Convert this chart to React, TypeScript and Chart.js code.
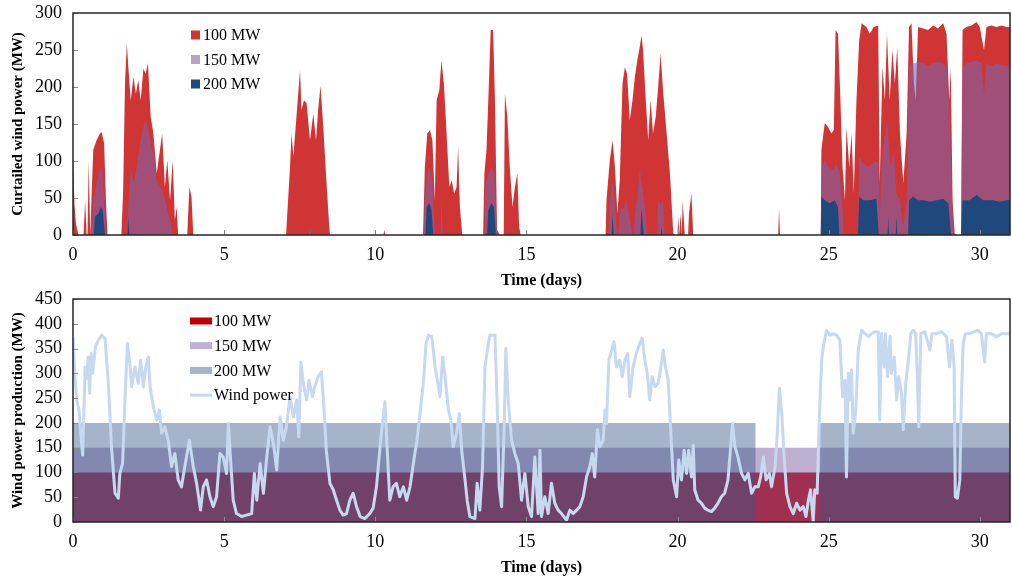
import React, { useEffect, useRef } from 'react';
import { Chart, registerables } from 'chart.js';

Chart.register(...registerables);

const FONT = "'Liberation Serif', 'Times New Roman', serif";

// ---------- Top panel: curtailed wind power (MW) ----------
const curt100Days = [0, 0.05, 0.1, 0.18, 0.35, 0.4, 0.45, 0.48, 0.52, 0.57, 0.62, 0.67, 0.78, 0.89, 0.95, 1.03, 1.09, 1.14, 1.6, 1.66, 1.72, 1.78, 1.83, 1.91, 2.0, 2.08, 2.16, 2.24, 2.33, 2.4, 2.48, 2.57, 2.66, 2.77, 2.86, 2.95, 3.04, 3.12, 3.21, 3.3, 3.37, 3.43, 3.48, 3.78, 3.85, 3.92, 3.98, 7.05, 7.09, 7.18, 7.23, 7.29, 7.4, 7.51, 7.56, 7.64, 7.73, 7.84, 7.95, 8.04, 8.11, 8.19, 8.28, 8.37, 8.45, 8.5, 10.27, 10.3, 10.33, 11.58, 11.64, 11.72, 11.81, 11.89, 11.97, 12.03, 12.12, 12.19, 12.27, 12.36, 12.45, 12.53, 12.61, 12.69, 12.74, 12.8, 12.88, 13.57, 13.61, 13.68, 13.76, 13.82, 13.9, 13.96, 14.03, 14.12, 14.25, 14.29, 14.37, 14.45, 14.54, 14.62, 14.7, 14.76, 14.81, 17.62, 17.65, 17.76, 17.85, 17.93, 18.01, 18.09, 18.18, 18.26, 18.33, 18.42, 18.51, 18.59, 18.67, 18.75, 18.81, 18.86, 18.95, 19.03, 19.11, 19.19, 19.28, 19.36, 19.44, 19.53, 19.64, 19.75, 19.86, 19.95, 20.0, 20.02, 20.06, 20.1, 20.14, 20.17, 20.24, 20.35, 20.38, 20.46, 20.52, 23.33, 23.36, 23.39, 24.74, 24.76, 24.87, 24.98, 25.09, 25.17, 25.23, 25.31, 25.39, 25.46, 25.54, 25.59, 25.68, 25.76, 25.83, 25.92, 26.01, 26.09, 26.25, 26.36, 26.49, 26.64, 26.69, 26.78, 26.86, 26.93, 27.02, 27.11, 27.19, 27.27, 27.36, 27.47, 27.58, 27.66, 27.74, 27.82, 27.88, 27.96, 28.13, 28.29, 28.46, 28.62, 28.79, 28.9, 28.99, 29.04, 29.1, 29.17, 29.25, 29.38, 29.43, 29.56, 29.73, 29.89, 30.0, 30.14, 30.22, 30.39, 30.55, 30.72, 30.88, 31.0];
const curt100MW = [105, 40, 15, 0, 0, 47, 0, 0, 101, 0, 60, 115, 128, 137, 139, 124, 47, 0, 0, 60, 205, 259, 227, 182, 214, 191, 209, 182, 225, 218, 232, 160, 137, 83, 110, 137, 65, 101, 47, 101, 20, 38, 0, 0, 65, 52, 0, 0, 29, 92, 137, 106, 164, 223, 169, 182, 178, 128, 164, 128, 169, 202, 146, 83, 29, 0, 0, 7, 0, 0, 92, 137, 142, 128, 47, 182, 196, 236, 205, 137, 65, 74, 56, 65, 119, 38, 0, 0, 83, 115, 205, 277, 277, 182, 7, 0, 0, 191, 160, 92, 38, 65, 83, 11, 0, 0, 47, 101, 128, 92, 29, 74, 205, 227, 218, 155, 182, 214, 236, 254, 270, 250, 182, 128, 182, 137, 160, 200, 245, 191, 137, 83, 2, 0, 0, 25, 0, 29, 0, 47, 0, 0, 29, 56, 0, 0, 36, 0, 0, 115, 151, 146, 137, 142, 277, 272, 182, 92, 47, 146, 92, 137, 56, 182, 263, 286, 281, 272, 281, 283, 70, 227, 182, 272, 182, 250, 205, 254, 137, 70, 137, 281, 286, 205, 182, 281, 279, 277, 283, 279, 286, 272, 182, 227, 47, 2, 0, 0, 277, 281, 283, 288, 281, 250, 281, 283, 281, 283, 281, 281];

const curt150Days = [0.6, 0.67, 0.78, 0.89, 0.95, 1.03, 1.09, 1.78, 1.83, 1.91, 2.0, 2.11, 2.22, 2.33, 2.41, 2.49, 2.57, 2.66, 2.77, 2.88, 2.99, 3.1, 3.21, 3.3, 7.8, 7.84, 7.88, 11.6, 11.64, 11.72, 11.81, 11.89, 11.97, 12.16, 12.19, 12.23, 13.6, 13.63, 13.74, 13.85, 13.93, 14.0, 14.04, 17.72, 17.76, 17.85, 17.93, 18.0, 18.05, 18.09, 18.2, 18.31, 18.42, 18.5, 18.55, 18.59, 18.67, 18.75, 18.84, 18.95, 19.0, 19.32, 19.36, 19.45, 19.53, 19.57, 24.74, 24.76, 24.87, 24.98, 25.15, 25.26, 25.37, 25.46, 25.5, 25.97, 26.01, 26.14, 26.31, 26.47, 26.64, 26.69, 26.8, 26.93, 27.04, 27.15, 27.24, 27.36, 27.47, 27.58, 27.66, 27.74, 27.85, 27.96, 28.13, 28.29, 28.46, 28.62, 28.79, 28.9, 28.99, 29.07, 29.12, 29.38, 29.43, 29.56, 29.73, 29.89, 30.05, 30.14, 30.22, 30.39, 30.55, 30.77, 31.0];
const curt150MW = [0, 47, 70, 88, 92, 56, 0, 0, 40, 92, 70, 92, 124, 146, 155, 142, 124, 110, 74, 65, 56, 38, 20, 0, 0, 10, 0, 0, 47, 83, 92, 74, 0, 0, 52, 0, 0, 65, 83, 92, 83, 25, 0, 0, 47, 74, 38, 0, 0, 38, 34, 47, 20, 0, 0, 29, 50, 88, 65, 25, 0, 0, 47, 40, 47, 0, 0, 92, 101, 92, 88, 97, 83, 38, 0, 0, 106, 97, 92, 97, 101, 29, 115, 155, 92, 115, 56, 47, 11, 47, 227, 232, 232, 234, 232, 229, 232, 234, 232, 227, 182, 70, 0, 0, 227, 232, 234, 236, 232, 191, 232, 229, 232, 229, 229];

const curt200Days = [0, 0.04, 0.68, 0.73, 0.84, 0.92, 0.98, 1.06, 1.8, 1.83, 1.86, 11.66, 11.7, 11.79, 11.86, 11.92, 13.7, 13.74, 13.85, 13.93, 13.99, 17.82, 17.85, 17.89, 18.77, 18.81, 18.86, 18.89, 19.45, 19.47, 19.5, 24.74, 24.76, 24.87, 25.04, 25.2, 25.31, 25.35, 25.97, 26.01, 26.14, 26.36, 26.58, 26.66, 26.95, 26.97, 27.0, 27.22, 27.24, 27.27, 27.63, 27.66, 27.79, 27.96, 28.13, 28.35, 28.57, 28.79, 28.96, 29.05, 29.38, 29.43, 29.67, 29.89, 30.11, 30.22, 30.44, 30.66, 30.88, 31.0];
const curt200MW = [25, 0, 0, 25, 29, 38, 34, 0, 0, 25, 0, 0, 38, 43, 34, 0, 0, 34, 43, 38, 0, 0, 29, 0, 0, 36, 10, 0, 0, 11, 0, 0, 52, 47, 43, 47, 38, 0, 0, 52, 47, 47, 49, 0, 0, 25, 0, 0, 25, 0, 0, 47, 52, 47, 47, 45, 47, 49, 43, 0, 0, 47, 47, 54, 47, 47, 47, 45, 47, 47];

// ---------- Bottom panel: wind power production (MW) ----------
const windDays = [0, 0.06, 0.12, 0.2, 0.28, 0.32, 0.36, 0.4, 0.45, 0.5, 0.55, 0.6, 0.65, 0.7, 0.75, 0.85, 0.95, 1.06, 1.17, 1.28, 1.39, 1.5, 1.55, 1.64, 1.72, 1.8, 1.88, 1.94, 2.05, 2.16, 2.24, 2.33, 2.41, 2.49, 2.55, 2.66, 2.77, 2.86, 2.93, 3.04, 3.15, 3.26, 3.37, 3.48, 3.59, 3.7, 3.85, 3.98, 4.09, 4.22, 4.31, 4.42, 4.53, 4.64, 4.75, 4.86, 4.97, 5.08, 5.14, 5.22, 5.3, 5.41, 5.58, 5.74, 5.91, 6.0, 6.08, 6.19, 6.3, 6.41, 6.52, 6.63, 6.74, 6.85, 6.96, 7.06, 7.18, 7.29, 7.4, 7.47, 7.54, 7.62, 7.73, 7.81, 7.92, 8.0, 8.11, 8.22, 8.3, 8.38, 8.5, 8.61, 8.72, 8.83, 8.94, 9.05, 9.16, 9.27, 9.38, 9.5, 9.66, 9.82, 9.93, 10.04, 10.12, 10.2, 10.32, 10.38, 10.48, 10.59, 10.7, 10.81, 10.93, 11.04, 11.15, 11.26, 11.38, 11.48, 11.59, 11.68, 11.76, 11.87, 11.98, 12.09, 12.14, 12.23, 12.31, 12.42, 12.5, 12.58, 12.69, 12.78, 12.86, 12.97, 13.04, 13.13, 13.3, 13.37, 13.46, 13.55, 13.63, 13.71, 13.79, 13.96, 14.03, 14.1, 14.18, 14.26, 14.32, 14.4, 14.51, 14.62, 14.73, 14.84, 14.95, 15.06, 15.17, 15.28, 15.39, 15.45, 15.5, 15.61, 15.72, 15.83, 15.94, 16.05, 16.16, 16.33, 16.44, 16.55, 16.66, 16.77, 16.88, 16.99, 17.1, 17.18, 17.26, 17.35, 17.43, 17.54, 17.6, 17.65, 17.73, 17.82, 17.9, 17.98, 18.09, 18.17, 18.26, 18.35, 18.42, 18.53, 18.64, 18.75, 18.83, 18.92, 19.0, 19.08, 19.16, 19.25, 19.36, 19.45, 19.53, 19.6, 19.69, 19.78, 19.86, 19.97, 20.04, 20.13, 20.22, 20.3, 20.37, 20.46, 20.52, 20.57, 20.68, 20.79, 20.9, 21.0, 21.12, 21.23, 21.34, 21.45, 21.56, 21.67, 21.75, 21.82, 21.9, 22.0, 22.12, 22.23, 22.34, 22.45, 22.56, 22.67, 22.75, 22.84, 22.93, 23.04, 23.11, 23.23, 23.3, 23.37, 23.45, 23.52, 23.61, 23.72, 23.83, 23.94, 24.05, 24.16, 24.25, 24.33, 24.4, 24.49, 24.54, 24.62, 24.69, 24.77, 24.84, 24.93, 25.04, 25.15, 25.26, 25.37, 25.46, 25.54, 25.59, 25.65, 25.7, 25.76, 25.81, 25.89, 25.98, 26.09, 26.2, 26.31, 26.42, 26.53, 26.64, 26.69, 26.75, 26.84, 26.88, 26.95, 27.03, 27.08, 27.17, 27.25, 27.32, 27.41, 27.47, 27.55, 27.64, 27.72, 27.8, 27.88, 27.94, 27.98, 28.05, 28.18, 28.35, 28.42, 28.57, 28.73, 28.9, 29.0, 29.08, 29.15, 29.19, 29.26, 29.34, 29.39, 29.45, 29.52, 29.67, 29.83, 29.94, 30.05, 30.16, 30.22, 30.38, 30.55, 30.72, 30.88, 31.0];
const windMW = [374, 300, 246, 225, 160, 135, 220, 313, 290, 333, 260, 340, 300, 330, 355, 368, 377, 370, 280, 145, 58, 48, 98, 118, 246, 360, 320, 273, 313, 280, 327, 273, 313, 333, 273, 232, 206, 226, 179, 192, 165, 112, 138, 85, 71, 112, 165, 112, 78, 24, 71, 85, 51, 31, 51, 138, 131, 98, 199, 120, 44, 17, 11, 14, 17, 98, 44, 118, 58, 131, 192, 159, 105, 212, 165, 192, 253, 212, 246, 172, 323, 280, 246, 286, 253, 273, 293, 303, 233, 145, 78, 65, 44, 24, 14, 17, 44, 58, 31, 11, 7, 17, 28, 71, 125, 179, 243, 165, 44, 71, 78, 51, 71, 44, 71, 118, 165, 219, 280, 360, 377, 374, 313, 273, 253, 333, 293, 226, 206, 152, 179, 219, 145, 85, 44, 11, 7, 78, 24, 112, 313, 347, 377, 377, 246, 71, 31, 179, 350, 246, 165, 138, 118, 44, 98, 31, 11, 131, 17, 145, 11, 51, 17, 78, 38, 24, 17, 4, 24, 17, 24, 31, 51, 91, 112, 138, 91, 186, 152, 165, 226, 199, 327, 347, 364, 313, 327, 293, 327, 340, 253, 313, 340, 360, 371, 327, 300, 246, 293, 273, 280, 313, 347, 313, 286, 179, 85, 51, 125, 85, 145, 98, 145, 91, 155, 65, 44, 38, 28, 24, 21, 28, 38, 51, 58, 85, 145, 199, 152, 131, 98, 85, 98, 58, 71, 71, 91, 131, 85, 98, 71, 112, 179, 270, 219, 138, 58, 31, 17, 38, 24, 31, 11, 44, 65, 0, 65, 58, 212, 327, 360, 387, 377, 380, 377, 367, 253, 286, 91, 300, 246, 307, 179, 219, 347, 387, 380, 374, 380, 384, 384, 206, 380, 313, 380, 293, 374, 300, 333, 246, 293, 259, 186, 280, 327, 380, 387, 380, 286, 192, 380, 384, 347, 380, 380, 384, 374, 313, 367, 313, 51, 48, 85, 246, 360, 380, 380, 384, 387, 380, 323, 380, 380, 374, 380, 380, 380];

// capacity bands (MW)
const band100Days = [0, 31];
const band100MW = [100, 100];
const band150Days = [0, 31];
const band150MW = [150, 150];
const band200Days = [0, 22.58, 22.58, 24.72, 24.72, 31];
const band200MW = [200, 200, 0, 0, 200, 200];

const xTickStep = 5;
const topYMax = 300;
const bottomYMax = 450;

const pts = (xs: number[], ys: number[]) => xs.map((x, i) => ({ x, y: ys[i] }));

const framePlugin = {
  id: 'frame',
  afterDatasetsDraw(chart: any) {
    const { ctx, chartArea: a, scales } = chart;
    ctx.save();
    ctx.strokeStyle = '#8a8a8a';
    ctx.lineWidth = 1;
    scales.x.ticks.forEach((t: any) => {
      const px = Math.round(scales.x.getPixelForValue(t.value)) + 0.5;
      ctx.beginPath();
      ctx.moveTo(px, a.bottom);
      ctx.lineTo(px, a.bottom - 5);
      ctx.stroke();
    });
    scales.y.ticks.forEach((t: any) => {
      const py = Math.round(scales.y.getPixelForValue(t.value)) + 0.5;
      ctx.beginPath();
      ctx.moveTo(a.left, py);
      ctx.lineTo(a.left + 5, py);
      ctx.stroke();
    });
    ctx.strokeStyle = '#262626';
    ctx.lineWidth = 1.5;
    ctx.strokeRect(a.left, a.top, a.right - a.left, a.bottom - a.top);
    ctx.restore();
  },
};

const legendPlugin = {
  id: 'boxLegend',
  afterDraw(chart: any, _args: any, opts: any) {
    if (!opts || !opts.items) return;
    const { ctx, chartArea: a } = chart;
    ctx.save();
    ctx.font = `16px ${FONT}`;
    ctx.textBaseline = 'middle';
    ctx.textAlign = 'left';
    opts.items.forEach((it: any, i: number) => {
      const cy = a.top + opts.y0 + i * opts.dy;
      const sx = a.left + opts.x0;
      if (it.line) {
        ctx.strokeStyle = it.color;
        ctx.lineWidth = 3;
        ctx.beginPath();
        ctx.moveTo(sx, cy);
        ctx.lineTo(sx + opts.sw, cy);
        ctx.stroke();
      } else {
        ctx.fillStyle = it.color;
        ctx.fillRect(sx, cy - opts.sh / 2, opts.sw, opts.sh);
      }
      ctx.fillStyle = '#000';
      ctx.fillText(it.label, a.left + opts.tx, cy + 1);
    });
    ctx.restore();
  },
};

function makeScales(yMax: number, yTitle: string, xAxisH: number, xTitlePadBottom: number) {
  return {
    x: {
      type: 'linear',
      min: 0,
      max: 31,
      afterFit: (s: any) => { s.height = xAxisH; s.paddingLeft = 0; s.paddingRight = 0; },
      border: { display: false },
      grid: { display: false, drawTicks: false },
      ticks: {
        stepSize: xTickStep,
        includeBounds: false,
        autoSkip: false,
        maxRotation: 0,
        padding: 9,
        color: '#000',
        font: { family: FONT, size: 18 },
      },
      title: {
        display: true,
        text: 'Time (days)',
        color: '#000',
        font: { family: FONT, size: 16, weight: 'bold' },
        padding: { top: 0, bottom: xTitlePadBottom },
      },
    },
    y: {
      min: 0,
      max: yMax,
      afterFit: (s: any) => { s.width = 73; s.paddingTop = 0; s.paddingBottom = 0; },
      border: { display: false },
      grid: { display: false, drawTicks: false },
      ticks: {
        stepSize: 50,
        autoSkip: false,
        padding: 11,
        color: '#000',
        font: { family: FONT, size: 18 },
      },
      title: {
        display: true,
        text: yTitle,
        color: '#000',
        font: { family: FONT, size: 15, weight: 'bold' },
        padding: { top: 9, bottom: 0 },
      },
    },
  };
}

function TopChart() {
  const ref = useRef<HTMLCanvasElement>(null);
  useEffect(() => {
    const ch = new Chart(ref.current as HTMLCanvasElement, {
      type: 'line',
      data: {
        datasets: [
          { label: '200 MW', data: pts(curt200Days, curt200MW), fill: 'origin', backgroundColor: '#1f497d', borderColor: 'rgba(0,0,0,0)', borderWidth: 0, pointRadius: 0, tension: 0 },
          { label: '150 MW', data: pts(curt150Days, curt150MW), fill: 'origin', backgroundColor: 'rgba(126,98,169,0.58)', borderColor: 'rgba(0,0,0,0)', borderWidth: 0, pointRadius: 0, tension: 0 },
          { label: '100 MW', data: pts(curt100Days, curt100MW), fill: 'origin', backgroundColor: '#d03535', borderColor: 'rgba(0,0,0,0)', borderWidth: 0, pointRadius: 0, tension: 0 },
        ],
      },
      options: {
        animation: false,
        responsive: false,
        devicePixelRatio: 1,
        layout: { padding: { left: 0, right: 2, top: 13, bottom: 0 } },
        scales: makeScales(topYMax, 'Curtailed wind power (MW)', 55, 0) as any,
        plugins: {
          legend: { display: false },
          tooltip: { enabled: false },
          boxLegend: {
            items: [
              { label: '100 MW', color: '#d03535' },
              { label: '150 MW', color: 'rgb(180,164,205)' },
              { label: '200 MW', color: '#1f497d' },
            ],
            x0: 118, sw: 9, sh: 9, tx: 130, y0: 22, dy: 24.5,
          },
        } as any,
      },
      plugins: [framePlugin, legendPlugin],
    });
    return () => ch.destroy();
  }, []);
  return <canvas ref={ref} width={1012} height={290} style={{ display: 'block' }} />;
}

function BottomChart() {
  const ref = useRef<HTMLCanvasElement>(null);
  useEffect(() => {
    const ch = new Chart(ref.current as HTMLCanvasElement, {
      type: 'line',
      data: {
        datasets: [
          { label: 'Wind power', data: pts(windDays, windMW), fill: false, borderColor: '#c6d9f0', borderWidth: 3, pointRadius: 0, tension: 0, borderJoinStyle: 'round' },
          { label: '200 MW', data: pts(band200Days, band200MW), fill: 'origin', backgroundColor: 'rgba(55,89,135,0.45)', borderColor: 'rgba(0,0,0,0)', borderWidth: 0, pointRadius: 0, tension: 0 },
          { label: '150 MW', data: pts(band150Days, band150MW), fill: 'origin', backgroundColor: 'rgba(127,95,161,0.5)', borderColor: 'rgba(0,0,0,0)', borderWidth: 0, pointRadius: 0, tension: 0 },
          { label: '100 MW', data: pts(band100Days, band100MW), fill: 'origin', backgroundColor: '#c00000', borderColor: 'rgba(0,0,0,0)', borderWidth: 0, pointRadius: 0, tension: 0 },
        ],
      },
      options: {
        animation: false,
        responsive: false,
        devicePixelRatio: 1,
        layout: { padding: { left: 0, right: 2, top: 9, bottom: 0 } },
        scales: makeScales(bottomYMax, 'Wind power production (MW)', 58, 3) as any,
        plugins: {
          legend: { display: false },
          tooltip: { enabled: false },
          boxLegend: {
            items: [
              { label: '100 MW', color: '#c00000' },
              { label: '150 MW', color: 'rgb(191,175,208)' },
              { label: '200 MW', color: 'rgb(165,180,201)' },
              { label: 'Wind power', color: '#c6d9f0', line: true },
            ],
            x0: 117, sw: 22, sh: 7, tx: 141, y0: 22, dy: 24.7,
          },
        } as any,
      },
      plugins: [framePlugin, legendPlugin],
    });
    return () => ch.destroy();
  }, []);
  return <canvas ref={ref} width={1012} height={290} style={{ display: 'block' }} />;
}

export default function App() {
  return (
    <div style={{ position: 'absolute', left: 0, top: 0, width: 1012, height: 580, background: '#fff' }}>
      <TopChart />
      <BottomChart />
    </div>
  );
}
